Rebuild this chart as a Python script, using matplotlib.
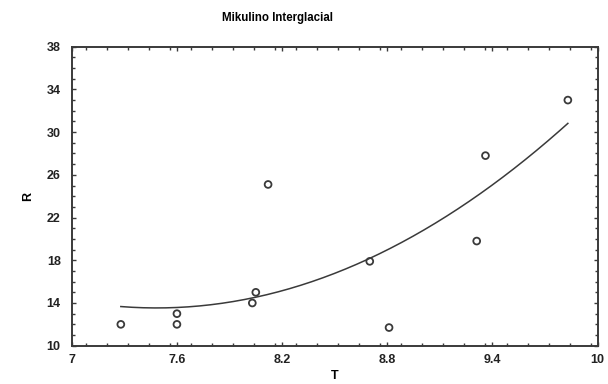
import numpy as np
import matplotlib
matplotlib.use("Agg")
import matplotlib.pyplot as plt
from matplotlib.ticker import MultipleLocator

plt.rcParams['font.family'] = ['Liberation Sans', 'DejaVu Sans']

# Temperature (T) and R observations
T = [7.28, 7.60, 7.60, 8.03, 8.05, 8.12, 8.70, 8.81, 9.31, 9.36, 9.83]
R = [12.0, 13.0, 12.0, 14.0, 15.0, 25.1, 17.9, 11.7, 19.8, 27.8, 33.0]

x_ticks = [7, 7.6, 8.2, 8.8, 9.4, 10]
y_ticks = [10, 14, 18, 22, 26, 30, 34, 38]

ink = '#3a3a3a'

fig = plt.figure(figsize=(6.08, 3.84), dpi=100)
ax = fig.add_axes([0.118, 0.0997, 0.865, 0.7787])

# Second-order polynomial trend through the observations
coef = np.polyfit(T, R, 2)
tt = np.linspace(min(T), max(T), 200)
ax.plot(tt, np.polyval(coef, tt), color=ink, lw=1.1)

ax.scatter(T, R, s=24, facecolors='none', edgecolors=ink, linewidths=1.3, zorder=3)

ax.set_xlim(7, 10)
ax.set_ylim(10, 38)
ax.set_xticks(x_ticks)
ax.set_xticklabels(['7', '7.6', '8.2', '8.8', '9.4', '10'])
ax.set_yticks(y_ticks)
ax.xaxis.set_minor_locator(MultipleLocator(0.12))
ax.yaxis.set_minor_locator(MultipleLocator(1))
ax.tick_params(which='both', direction='in', top=True, right=True,
               color=ink, width=1.0)
ax.tick_params(which='major', length=3, labelsize=9, labelcolor='#222222')
ax.tick_params(which='minor', length=2.5)
ax.tick_params(axis='y', pad=8)
ax.tick_params(axis='x', pad=6)
for lab in ax.get_xticklabels() + ax.get_yticklabels():
    lab.set_fontweight('bold')
for sp in ax.spines.values():
    sp.set_color(ink)
    sp.set_linewidth(1.4)

ax.set_ylabel('R', fontsize=9, fontweight='bold', labelpad=9)
ax.set_xlabel('T', fontsize=9, fontweight='bold', labelpad=3)

fig.text(0.457, 0.952, 'Mikulino Interglacial', ha='center', va='center',
         fontsize=8.3, fontweight='bold')

fig.savefig('out.png', dpi=100)
